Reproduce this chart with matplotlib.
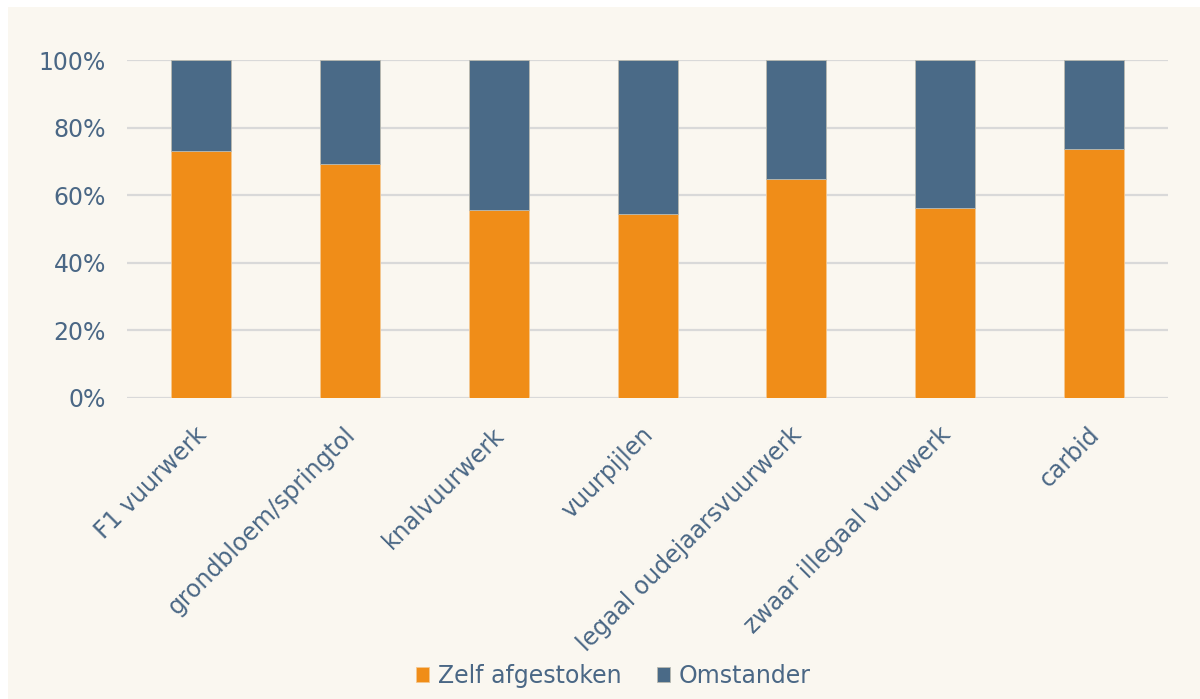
import matplotlib
matplotlib.use("Agg")
import matplotlib.pyplot as plt
from matplotlib.patches import Rectangle
from matplotlib.ticker import FuncFormatter
from matplotlib.transforms import ScaledTranslation

categories = ["F1 vuurwerk", "grondbloem/springtol", "knalvuurwerk", "vuurpijlen",
              "legaal oudejaarsvuurwerk", "zwaar illegaal vuurwerk", "carbid"]
zelf = [0.730, 0.692, 0.556, 0.544, 0.647, 0.561, 0.736]
omstander = [1 - v for v in zelf]
series_names = ["Zelf afgestoken", "Omstander"]

orange = "#F08D18"
blue = "#4A6A87"
text_c = "#4A6785"
bg = "#FAF7F0"

fig = plt.figure(figsize=(12, 6.99), dpi=100, facecolor="white")
fig.patches.append(Rectangle((8/1200, 0), 1 - 8/1200, 1 - 7/699, transform=fig.transFigure,
                             facecolor=bg, edgecolor="none", zorder=-10))
ax = fig.add_axes([0.1055, 0.4313, 0.8682, 0.4828])
ax.set_facecolor("none")

x = list(range(len(categories)))
ax.bar(x, zelf, width=0.403, color=orange, label=series_names[0], zorder=3,
       edgecolor="#F5C890", linewidth=0.6)
ax.bar(x, omstander, bottom=zelf, width=0.403, color=blue, label=series_names[1], zorder=3,
       edgecolor="#B9B9B0", linewidth=0.6)

ax.set_xlim(-0.5, len(categories) - 0.5)
ax.set_ylim(0, 1)
ax.set_yticks([0, 0.2, 0.4, 0.6, 0.8, 1.0])
ax.yaxis.set_major_formatter(FuncFormatter(lambda v, p: f"{v*100:.0f}%"))
ax.grid(axis="y", color="#D9D9D9", linewidth=1.6, zorder=0)
ax.set_axisbelow(True)
for s in ax.spines.values():
    s.set_visible(False)
ax.tick_params(axis="both", length=0, colors=text_c, labelsize=17)
ax.tick_params(axis="y", pad=15)
ax.set_xticks(x)
ax.set_xticklabels(categories, rotation=45, ha="right", rotation_mode="anchor")
ax.tick_params(axis="x", pad=18)
shift = ScaledTranslation(-7/100, 0, fig.dpi_scale_trans)
for lbl in ax.get_xticklabels():
    lbl.set_color(text_c)
    lbl.set_transform(lbl.get_transform() + shift)

leg = fig.legend(loc="center", bbox_to_anchor=(0.511, 1 - 676/699), ncol=2, frameon=False,
                 fontsize=17, handlelength=0.58, handleheight=0.58, handletextpad=0.35,
                 columnspacing=1.5, labelcolor=text_c)

fig.savefig("out.png", dpi=100, facecolor="white")
